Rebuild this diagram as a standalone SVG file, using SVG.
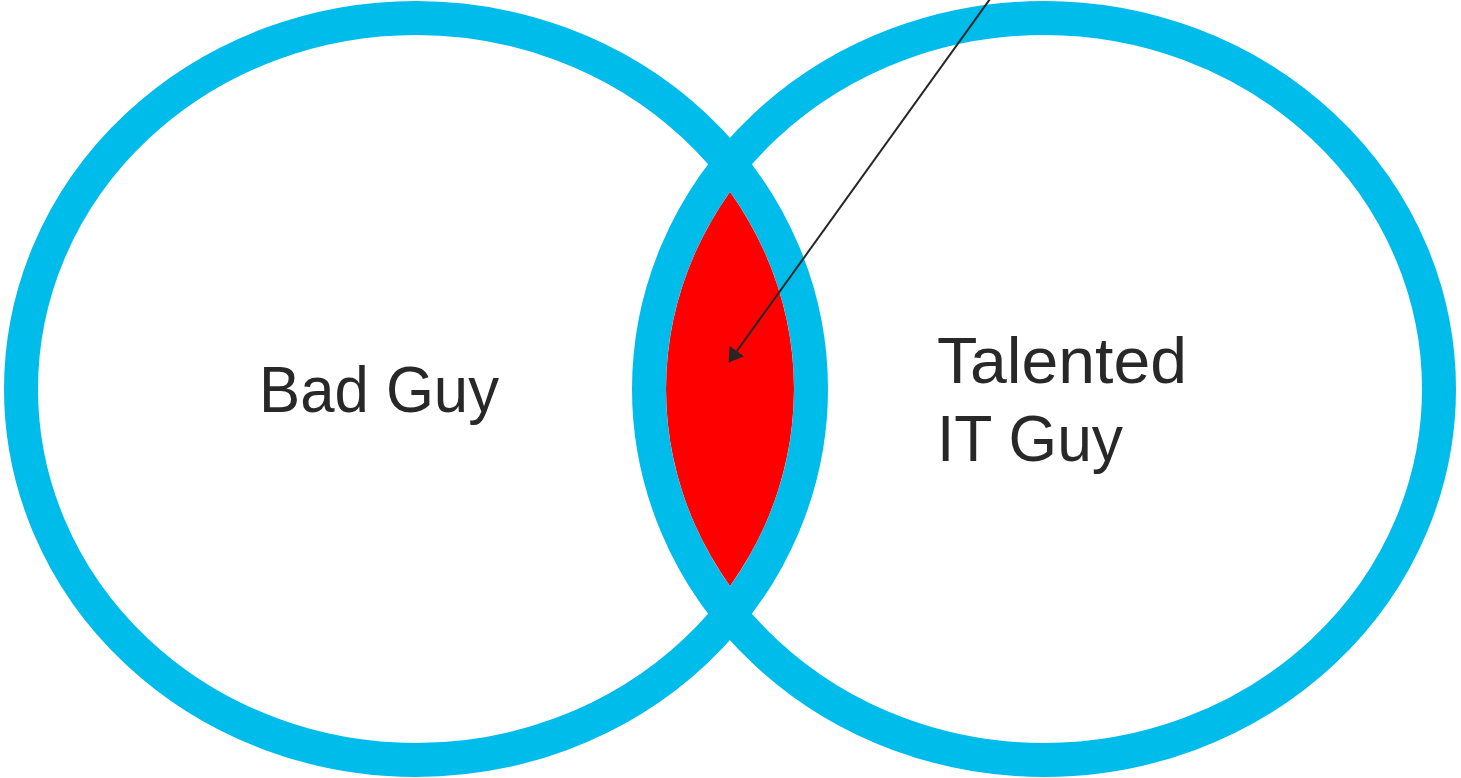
<svg xmlns="http://www.w3.org/2000/svg" width="1461" height="778" viewBox="0 0 1461 778">
  <style>
    .ring { fill: none; stroke: #00BCEB; stroke-width: 34; }
    .label { font-family: "Liberation Sans", Arial, sans-serif; font-size: 64px; fill: #282828; }
    .pointer { stroke: #262626; stroke-width: 2; fill: none; }
  </style>
  <defs>
    <marker id="arrowhead" viewBox="0 0 14 18" refX="13.5" refY="9" markerWidth="14" markerHeight="18" markerUnits="userSpaceOnUse" orient="auto">
      <path d="M0,0 L14,9 L0,18 Z" fill="#262626"/>
    </marker>
    <clipPath id="leftInner">
      <ellipse cx="416" cy="389" rx="378" ry="354"/>
    </clipPath>
  </defs>
  <rect width="1461" height="778" fill="#ffffff"/>

  <!-- overlap of the two sets -->
  <g id="overlap">
    <ellipse cx="1044" cy="389" rx="378" ry="354" fill="#FF0000" clip-path="url(#leftInner)"/>
  </g>

  <g id="bad-guy">
    <ellipse class="ring" cx="416" cy="389" rx="395" ry="371"/>
    <text class="label" x="259" y="412" textLength="240" lengthAdjust="spacingAndGlyphs">Bad Guy</text>
  </g>

  <g id="talented-it-guy">
    <ellipse class="ring" cx="1044" cy="389" rx="395" ry="371"/>
    <text class="label" x="937" y="383" textLength="250" lengthAdjust="spacingAndGlyphs">Talented</text>
    <text class="label" x="937" y="461" textLength="186" lengthAdjust="spacingAndGlyphs">IT Guy</text>
  </g>

  <g id="connectors">
    <line class="pointer" x1="990" y1="-1" x2="729" y2="362" marker-end="url(#arrowhead)"/>
  </g>
</svg>
